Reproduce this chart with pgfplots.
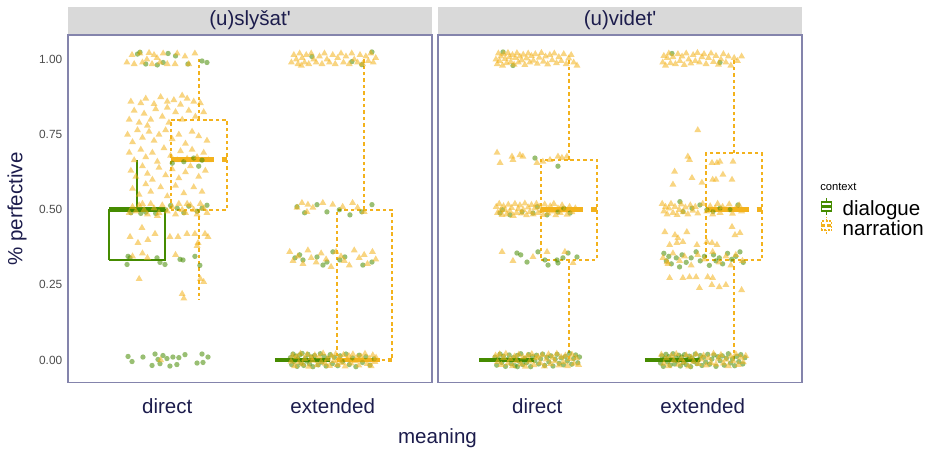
\documentclass[border=0pt]{standalone}
\usepackage{fontspec}
\setmainfont{Liberation Sans}
\newfontfamily\nf{Liberation Sans}
\usepackage{pgfplots}
\pgfplotsset{compat=1.18}
\definecolor{dlg}{HTML}{458B00}
\definecolor{nar}{HTML}{F3B21C}
\definecolor{navy}{HTML}{1C1C4C}
\definecolor{bord}{HTML}{8484AC}
\definecolor{strip}{HTML}{D9D9D9}
\definecolor{tickc}{HTML}{4D4D4D}
\newcommand{\fbig}{\fontsize{15.4pt}{18pt}\selectfont}
\newcommand{\ftick}{\fontsize{8.9pt}{10pt}\selectfont}
\newcommand{\fsmall}{\fontsize{8.4pt}{10pt}\selectfont}
\pgfplotsset{
  panel/.style={
    scale only axis, width=273pt, height=260.8pt,
    xmin=0.4, xmax=2.6, ymin=-0.0755, ymax=1.0815,
    clip=false,
    xtick={1,2}, xticklabels={direct,extended},
    major tick length=0pt, tick style={draw=none},
    axis line style={draw=bord, line width=0.9pt},
    xticklabel style={font=\fbig, text=navy, anchor=base, yshift=-23.25pt},
    yticklabel style={font=\ftick, text=tickc, xshift=-0.8pt},
    every axis title shift=0pt,
    title style={at={(rel axis cs:0.5,1)}, anchor=south, fill=strip, minimum width=273pt, minimum height=20.25pt, inner sep=0pt, font=\nf\fbig, text=navy, yshift=0.45pt},
  },
  gpt/.style={only marks, color=dlg, mark=*, mark size=2pt, mark options={draw opacity=0, fill=dlg, fill opacity=0.55}, forget plot},
  opt/.style={only marks, color=nar, mark=triangle*, mark size=3pt, mark options={draw opacity=0, fill=nar, fill opacity=0.55}, forget plot},
  gbox/.style={dlg, line width=1.6pt, no markers, forget plot},
  gmed/.style={dlg, line width=3.6pt, no markers, forget plot},
  obox/.style={nar, line width=1.5pt, dash pattern=on 2.6pt off 2.2pt, no markers, forget plot},
  omed/.style={nar, line width=3.6pt, dash pattern=on 32pt off 6pt, no markers, forget plot},
}
\begin{document}
\begin{tikzpicture}
\useasboundingbox (0,0) rectangle (697.5pt,-336.75pt);
% ---------------- panel 1 : (u)slysat'
\begin{axis}[panel, at={(51pt,-26.25pt)}, anchor=north west,
  title={(u)slyšat'},
  ytick={0,0.25,0.5,0.75,1}, yticklabels={0.00,0.25,0.50,0.75,1.00},
  ylabel={\% perfective},
  every axis y label/.style={at={(axis description cs:-0.1401,0.5)}, rotate=90, anchor=center, font=\fbig, text=navy},
]
% dialogue points
\addplot[gpt] coordinates {
(0.82,1.018)(0.87,0.985)(0.94,0.982)(0.975,0.99)(1.005,1.02)(1.05,1.012)(1.125,0.985)(1.21,0.995)(1.24,0.99)(0.835,1.024)
(1.03,0.655)(1.1,0.66)(1.16,0.672)(1.21,0.665)(1.19,0.645)
(0.78,0.49)(0.8,0.5)(0.87,0.492)(0.93,0.488)(0.99,0.5)(1.06,0.505)(1.1,0.49)(1.13,0.512)(1.18,0.495)(1.21,0.505)(1.24,0.515)(1.02,0.514)(0.84,0.488)
(0.757,0.318)(0.763,0.345)(0.775,0.34)(0.938,0.34)(0.956,0.325)(0.986,0.318)(1.077,0.335)(1.095,0.333)(1.167,0.345)(1.197,0.315)
(0.763,0.012)(0.787,-0.005)(0.853,0.01)(0.908,-0.018)(0.926,0.02)(0.944,0.002)(0.956,-0.012)(0.974,0.015)(0.998,0.005)(1.016,-0.02)(1.034,0.01)(1.058,-0.015)(1.07,0.008)(1.107,0.018)(1.18,-0.01)(1.21,0.02)(1.216,-0.008)(1.246,0.01)
(1.874,1.01)(2.116,0.993)(2.176,0.983)(2.237,1.025)
(1.784,0.51)(1.905,0.517)(1.965,0.493)(2.104,0.483)(2.176,0.493)(2.237,0.517)(1.83,0.49)(2.04,0.5)
(1.772,0.34)(1.82,0.333)(1.905,0.343)(1.941,0.316)(1.965,0.326)(2.001,0.36)(2.043,0.333)(2.182,0.316)(2.237,0.326)(1.80,0.35)(2.073,0.343)
(1.745,0.008)(1.752,-0.015)(1.76,0.02)(1.768,-0.004)(1.775,0.013)(1.785,-0.021)(1.79,0.003)(1.8,0.017)(1.808,-0.01)(1.815,0.022)(1.825,-0.018)(1.835,0.006)(1.842,-0.003)(1.85,0.019)(1.86,-0.013)(1.872,0.01)(1.88,-0.022)(1.89,0.015)(1.9,0.0)(1.912,-0.016)(1.925,0.021)(1.935,-0.007)(1.948,0.012)(1.96,-0.02)(1.972,0.005)(1.985,0.018)(1.998,-0.012)(2.01,0.009)(2.03,-0.019)(2.045,0.014)(2.06,-0.005)(2.08,0.02)(2.1,-0.015)(2.12,0.007)(2.14,-0.022)(2.16,0.016)(2.18,-0.008)(2.2,0.011)(2.225,-0.017)(2.25,0.004)
};
% narration points
\addplot[opt] coordinates {
(0.756,0.99)(0.787,1.015)(0.80,0.985)(0.835,1.02)(0.877,1.0)(0.908,0.985)(0.92,1.015)(0.938,1.005)(0.956,0.99)(0.975,1.02)(1.047,0.985)(1.06,1.02)(1.107,1.01)(1.13,0.985)(1.167,1.02)(0.85,0.99)(0.89,1.022)(1.0,0.985)
(0.78,0.86)(0.84,0.855)(0.87,0.87)(0.92,0.852)(0.96,0.875)(1.0,0.86)(1.04,0.865)(1.08,0.85)(1.12,0.87)(1.16,0.86)(1.2,0.855)(1.09,0.88)
(0.77,0.8)(0.8,0.83)(0.83,0.79)(0.86,0.82)(0.9,0.8)(0.93,0.835)(0.97,0.81)(1.01,0.79)(1.05,0.825)(1.09,0.8)(1.13,0.83)(1.17,0.81)(1.22,0.825)(0.88,0.78)(1.0,0.84)
(0.76,0.75)(0.79,0.725)(0.82,0.765)(0.85,0.74)(0.89,0.76)(0.92,0.73)(0.95,0.75)(0.99,0.765)(1.03,0.735)(1.07,0.75)(1.11,0.72)(1.15,0.76)(1.19,0.745)(1.24,0.73)
(0.77,0.69)(0.8,0.665)(0.84,0.70)(0.87,0.675)(0.91,0.69)(0.94,0.66)(0.98,0.705)(1.02,0.68)(1.06,0.665)(1.08,0.695)(1.12,0.67)(1.15,0.70)(1.18,0.675)(1.22,0.69)(1.25,0.665)
(0.78,0.63)(0.81,0.61)(0.85,0.645)(0.88,0.62)(0.91,0.6)(0.95,0.64)(0.99,0.615)(1.03,0.635)(1.07,0.605)(1.11,0.625)(1.14,0.645)(1.19,0.61)(1.23,0.63)
(0.79,0.57)(0.83,0.55)(0.87,0.585)(0.9,0.56)(0.96,0.575)(1.0,0.545)(1.05,0.58)(1.1,0.555)(1.16,0.575)(1.21,0.56)
(0.77,0.49)(0.79,0.51)(0.81,0.495)(0.83,0.515)(0.86,0.5)(0.88,0.485)(0.9,0.52)(0.92,0.505)(0.95,0.49)(0.97,0.515)(1.0,0.495)(1.03,0.51)(1.05,0.485)(1.07,0.52)(1.09,0.5)(1.11,0.49)(1.14,0.515)(1.16,0.5)(1.18,0.485)(1.2,0.52)(1.22,0.505)(1.24,0.49)(0.85,0.52)(0.94,0.48)(1.12,0.52)
(0.775,0.41)(0.847,0.44)(0.823,0.39)(0.883,0.40)(0.926,0.42)(1.016,0.41)(1.065,0.41)(1.119,0.42)(1.167,0.42)(1.228,0.42)(1.246,0.41)(1.186,0.39)(1.18,0.38)
(0.83,0.27)(0.79,0.345)(0.85,0.355)(0.88,0.34)(1.09,0.22)(1.10,0.205)(1.20,0.27)(1.22,0.26)(1.05,0.35)(0.96,0.0)
(1.75,0.99)(1.765,1.015)(1.78,1.0)(1.79,0.985)(1.80,1.02)(1.815,1.005)(1.83,0.99)(1.84,1.015)(1.855,0.985)(1.87,1.02)(1.885,1.0)(1.9,0.99)(1.92,1.01)(1.935,0.985)(1.95,1.02)(1.965,1.0)(1.98,0.99)(2.0,1.015)(2.015,0.985)(2.03,1.005)(2.05,1.02)(2.065,0.99)(2.08,1.01)(2.1,0.985)(2.115,1.02)(2.13,1.0)(2.15,0.99)(2.165,1.015)(2.18,0.985)(2.2,1.01)(2.215,0.995)(2.23,1.02)(2.245,0.99)(2.26,1.005)(1.81,0.98)
(1.784,0.507)(1.814,0.523)(1.844,0.493)(1.85,0.517)(1.88,0.507)(1.94,0.523)(2.0,0.517)(2.06,0.51)(2.12,0.523)(2.15,0.507)(2.19,0.493)
(1.74,0.36)(1.76,0.33)(1.79,0.345)(1.82,0.32)(1.85,0.365)(1.87,0.34)(1.90,0.325)(1.93,0.355)(1.96,0.335)(1.99,0.31)(2.02,0.36)(2.05,0.345)(2.07,0.33)(2.10,0.315)(2.13,0.365)(2.16,0.34)(2.19,0.35)(2.21,0.32)(2.24,0.36)(2.26,0.335)
(1.748,-0.005)(1.758,0.015)(1.77,-0.02)(1.782,0.01)(1.795,-0.008)(1.805,0.021)(1.818,-0.014)(1.83,0.003)(1.845,0.018)(1.855,-0.022)(1.868,0.007)(1.878,-0.002)(1.892,0.016)(1.905,-0.017)(1.918,0.011)(1.93,-0.006)(1.942,0.022)(1.955,-0.012)(1.968,0.004)(1.98,-0.019)(1.992,0.013)(2.005,-0.003)(2.018,0.02)(2.028,-0.016)(2.04,0.006)(2.052,-0.009)(2.065,0.017)(2.075,-0.021)(2.088,0.002)(2.098,0.014)(2.11,-0.011)(2.122,0.019)(2.135,-0.004)(2.148,0.009)(2.158,-0.018)(2.17,0.012)(2.182,-0.001)(2.195,0.021)(2.208,-0.013)(2.22,0.005)(2.232,-0.02)(2.242,0.016)(2.255,-0.006)(2.262,0.008)(2.03,0.0)
};
% boxes: dialogue
\addplot[gbox] coordinates {(0.648,0.333)(0.986,0.333)(0.986,0.5)(0.648,0.5)(0.648,0.333)};
\addplot[gbox] coordinates {(0.817,0.5)(0.817,0.667)};
\addplot[gmed] coordinates {(0.648,0.5)(0.986,0.5)};
\addplot[gmed] coordinates {(1.651,0)(1.983,0)};
% boxes: narration
\addplot[obox] coordinates {(1.022,0.5)(1.36,0.5)(1.36,0.8)(1.022,0.8)(1.022,0.5)};
\addplot[obox] coordinates {(1.19,0.8)(1.19,1.0)};
\addplot[obox] coordinates {(1.19,0.5)(1.19,0.2)};
\addplot[omed] coordinates {(1.022,0.667)(1.36,0.667)};
\addplot[obox] coordinates {(2.025,0)(2.358,0)(2.358,0.5)(2.025,0.5)(2.025,0)};
\addplot[obox] coordinates {(2.19,0.5)(2.19,1.0)};
\addplot[omed] coordinates {(2.025,0)(2.358,0)};
\end{axis}
% ---------------- panel 2 : (u)videt'
\begin{axis}[panel, at={(328.5pt,-26.25pt)}, anchor=north west,
  title={(u)videt'},
  ytick=\empty,
  legend style={at={(axis description cs:1.0495,0.4722)}, anchor=west, draw=none, fill=none, inner sep=0pt, outer sep=0pt, font=\fbig, row sep=-3pt, column sep=7.5pt,
    nodes={inner sep=0pt, text height=10pt, text depth=3.5pt}},
  legend cell align=left,
]
\addlegendimage{legend image code/.code={
  \draw[dlg,line width=1.3pt] (3.75pt,-2.3pt)--(3.75pt,0.6pt) (3.75pt,7.4pt)--(3.75pt,10.3pt);
  \draw[dlg,line width=1.3pt] (0pt,0.6pt) rectangle (7.5pt,7.4pt);
  \draw[dlg,line width=2pt] (0pt,4pt)--(7.5pt,4pt);}}
\addlegendentry{dialogue}
\addlegendimage{legend image code/.code={
  \draw[nar,line width=1.3pt,dash pattern=on 1.5pt off 1pt] (3.75pt,-2.3pt)--(3.75pt,0.6pt) (3.75pt,7.4pt)--(3.75pt,10.3pt);
  \draw[nar,line width=1.3pt,dash pattern=on 1.5pt off 1pt] (0pt,0.6pt) rectangle (7.5pt,7.4pt);
  \draw[nar,line width=2pt,dash pattern=on 3pt off 1.2pt] (0pt,4pt)--(7.5pt,4pt);}}
\addlegendentry{narration}
% dialogue points
\addplot[gpt] coordinates {
(0.793,1.025)(0.853,0.98)
(0.986,0.672)(1.125,0.645)
(0.775,0.489)(0.835,0.483)(0.908,0.493)(0.974,0.489)(1.059,0.483)(1.125,0.493)(1.198,0.489)(0.79,0.5)(1.0,0.51)(1.16,0.505)
(0.877,0.356)(0.938,0.326)(1.004,0.36)(1.046,0.333)(1.065,0.316)(1.119,0.333)(1.125,0.323)(1.155,0.34)(1.186,0.356)(1.24,0.343)(0.9,0.35)
(0.745,0.01)(0.755,-0.017)(0.765,0.004)(0.775,0.02)(0.785,-0.008)(0.795,0.013)(0.808,-0.021)(0.82,0.002)(0.83,0.017)(0.842,-0.012)(0.855,0.008)(0.865,-0.019)(0.878,0.015)(0.89,-0.004)(0.9,0.021)(0.912,-0.015)(0.925,0.006)(0.935,-0.009)(0.948,0.018)(0.96,-0.022)(0.972,0.011)(0.985,-0.002)(0.995,0.016)(1.008,-0.013)(1.02,0.004)(1.032,0.02)(1.045,-0.018)(1.058,0.009)(1.07,-0.006)(1.082,0.014)(1.095,-0.02)(1.108,0.003)(1.12,0.019)(1.132,-0.011)(1.145,0.007)(1.158,-0.016)(1.17,0.012)(1.182,-0.003)(1.195,0.022)(1.208,-0.014)(1.22,0.005)(1.232,0.017)(1.245,-0.009)(1.255,0.01)(0.88,-0.022)
(1.814,1.02)(2.104,0.99)
(1.862,0.527)(1.881,0.494)(1.935,0.505)(1.983,0.516)(2.025,0.5)(2.062,0.494)(2.104,0.505)(2.165,0.5)(2.213,0.516)
(1.765,0.355)(1.78,0.33)(1.795,0.345)(1.81,0.32)(1.84,0.34)(1.86,0.31)(1.875,0.35)(1.9,0.325)(1.93,0.34)(1.96,0.36)(1.985,0.33)(2.01,0.345)(2.04,0.315)(2.065,0.35)(2.08,0.33)(2.1,0.34)(2.12,0.32)(2.15,0.355)(2.175,0.335)(2.2,0.345)(2.225,0.36)(2.245,0.325)
(1.745,-0.01)(1.753,0.014)(1.762,-0.021)(1.77,0.005)(1.778,0.019)(1.787,-0.006)(1.795,0.011)(1.803,-0.017)(1.812,0.002)(1.82,0.021)(1.83,-0.013)(1.838,0.008)(1.847,-0.003)(1.855,0.016)(1.865,-0.02)(1.873,0.01)(1.882,-0.008)(1.89,0.018)(1.9,-0.015)(1.908,0.004)(1.918,0.013)(1.927,-0.022)(1.936,0.007)(1.945,-0.004)(1.955,0.02)(1.965,-0.012)(1.975,0.001)(1.985,0.015)(1.995,-0.018)(2.005,0.009)(2.018,-0.007)(2.03,0.019)(2.042,-0.014)(2.055,0.003)(2.068,0.017)(2.08,-0.021)(2.092,0.011)(2.105,-0.002)(2.118,0.014)(2.13,-0.017)(2.143,0.006)(2.155,0.021)(2.168,-0.01)(2.18,0.004)(2.193,-0.019)(2.205,0.012)(2.218,-0.005)(2.23,0.018)(2.242,-0.013)(2.255,0.008)
};
% narration points
\addplot[opt] coordinates {
(0.75,1.0)(0.758,0.985)(0.765,1.02)(0.772,0.995)(0.78,1.01)(0.79,0.98)(0.798,1.018)(0.806,1.002)(0.815,0.988)(0.823,1.022)(0.832,1.008)(0.84,0.992)(0.85,1.015)(0.86,0.983)(0.868,1.005)(0.877,1.021)(0.886,0.99)(0.895,1.01)(0.905,0.997)(0.915,1.016)(0.925,0.982)(0.935,1.004)(0.945,1.02)(0.955,0.99)(0.965,1.012)(0.976,0.996)(0.988,1.018)(1.0,0.986)(1.012,1.006)(1.025,1.022)(1.037,0.993)(1.05,1.01)(1.063,0.984)(1.076,1.015)(1.09,0.998)(1.103,1.02)(1.116,0.988)(1.13,1.008)(1.145,0.995)(1.16,1.018)(1.175,0.985)(1.19,1.004)(1.205,1.015)(1.22,0.99)(1.24,0.98)
(0.757,0.69)(0.775,0.656)(0.847,0.677)(0.853,0.666)(0.895,0.682)(0.913,0.677)(0.998,0.656)(1.034,0.66)(1.077,0.666)(1.125,0.677)(1.149,0.673)(1.179,0.677)
(0.752,0.51)(0.76,0.49)(0.77,0.52)(0.778,0.498)(0.787,0.483)(0.796,0.512)(0.805,0.5)(0.815,0.485)(0.825,0.517)(0.835,0.495)(0.845,0.506)(0.855,0.48)(0.865,0.52)(0.875,0.49)(0.885,0.503)(0.895,0.515)(0.905,0.488)(0.915,0.5)(0.925,0.521)(0.935,0.482)(0.945,0.508)(0.955,0.493)(0.965,0.516)(0.975,0.485)(0.985,0.505)(0.995,0.52)(1.005,0.49)(1.015,0.51)(1.025,0.498)(1.035,0.483)(1.045,0.518)(1.055,0.5)(1.065,0.488)(1.078,0.512)(1.09,0.495)(1.1,0.52)(1.112,0.482)(1.125,0.505)(1.138,0.49)(1.15,0.515)(1.165,0.498)(1.18,0.484)(1.195,0.51)(1.21,0.492)(1.23,0.505)
(0.787,0.36)(0.853,0.33)(0.974,0.343)(1.059,0.36)(1.167,0.36)(1.216,0.323)
(0.748,0.015)(0.76,-0.006)(0.772,0.019)(0.783,-0.016)(0.797,0.007)(0.81,0.021)(0.823,-0.011)(0.837,0.003)(0.85,-0.02)(0.862,0.012)(0.875,-0.003)(0.888,0.018)(0.902,-0.014)(0.915,0.009)(0.928,-0.022)(0.94,0.014)(0.953,-0.005)(0.967,0.02)(0.98,-0.017)(0.992,0.006)(1.005,0.011)(1.018,-0.01)(1.03,0.016)(1.043,-0.021)(1.055,0.002)(1.068,0.019)(1.08,-0.013)(1.093,0.008)(1.106,-0.004)(1.118,0.021)(1.131,-0.018)(1.144,0.01)(1.157,-0.007)(1.17,0.015)(1.183,-0.02)(1.196,0.004)(1.21,0.018)(1.222,-0.012)(1.236,0.007)(1.25,-0.016)
(1.758,0.99)(1.765,1.012)(1.775,0.98)(1.785,1.005)(1.795,1.02)(1.805,0.988)(1.82,1.008)(1.835,0.985)(1.85,1.018)(1.862,0.995)(1.875,1.01)(1.888,0.982)(1.9,1.02)(1.915,1.0)(1.928,0.987)(1.942,1.015)(1.955,0.995)(1.968,1.022)(1.98,0.99)(1.995,1.008)(2.008,1.018)(2.02,0.985)(2.035,1.005)(2.05,1.02)(2.065,0.992)(2.08,1.012)(2.095,0.983)(2.11,1.0)(2.125,1.018)(2.14,0.99)(2.155,1.01)(2.17,0.98)(2.19,1.005)(2.21,0.995)(2.235,1.01)
(1.97,0.765)(1.91,0.677)(1.92,0.666)(1.83,0.627)(1.82,0.584)(1.935,0.606)(2.056,0.656)(2.086,0.656)(2.104,0.66)(2.183,0.66)(2.122,0.617)(2.06,0.60)(2.08,0.60)(2.177,0.6)(1.995,0.59)
(1.755,0.52)(1.765,0.495)(1.775,0.51)(1.785,0.485)(1.795,0.505)(1.808,0.52)(1.82,0.49)(1.832,0.51)(1.845,0.483)(1.858,0.5)(1.87,0.518)(1.882,0.492)(1.895,0.508)(1.91,0.485)(1.925,0.515)(1.94,0.497)(1.955,0.51)(1.97,0.488)(2.0,0.52)(2.025,0.495)(2.045,0.512)(2.06,0.485)(2.075,0.505)(2.09,0.52)(2.105,0.49)(2.12,0.51)(2.14,0.5)(2.16,0.518)(2.18,0.487)(2.2,0.505)(2.22,0.515)(2.235,0.495)
(1.771,0.426)(1.832,0.416)(1.85,0.406)(1.904,0.426)(1.965,0.383)(2.025,0.393)(2.056,0.39)(2.086,0.383)(2.177,0.443)(2.195,0.416)(2.225,0.423)(1.80,0.383)(1.844,0.39)(1.88,0.393)
(1.76,0.34)(1.79,0.32)(1.82,0.355)(1.86,0.33)(1.89,0.345)(1.93,0.315)(1.97,0.35)(2.01,0.335)(2.06,0.36)(2.1,0.325)(2.14,0.345)(2.17,0.315)(2.2,0.35)(2.24,0.33)(1.784,0.326)
(1.80,0.273)(1.88,0.273)(1.92,0.276)(1.96,0.276)(2.03,0.276)(2.06,0.273)(1.98,0.24)(2.055,0.25)(2.10,0.243)(2.14,0.25)(2.235,0.233)
(1.75,0.018)(1.765,-0.012)(1.78,0.006)(1.795,-0.02)(1.81,0.013)(1.825,-0.002)(1.84,0.02)(1.855,-0.015)(1.87,0.004)(1.885,-0.008)(1.9,0.016)(1.915,-0.021)(1.93,0.009)(1.945,-0.005)(1.96,0.019)(1.975,-0.013)(1.99,0.002)(2.005,0.015)(2.02,-0.018)(2.035,0.007)(2.05,-0.009)(2.065,0.021)(2.08,-0.014)(2.095,0.005)(2.11,0.017)(2.125,-0.011)(2.14,0.001)(2.155,-0.02)(2.17,0.012)(2.185,-0.004)(2.2,0.02)(2.215,-0.016)(2.23,0.008)(2.245,-0.007)(2.26,0.014)
};
% boxes: dialogue
\addplot[gmed] coordinates {(0.648,0)(0.98,0)};
\addplot[gmed] coordinates {(1.651,0)(1.983,0)};
% boxes: narration
\addplot[obox] coordinates {(1.02,0.333)(1.359,0.333)(1.359,0.667)(1.02,0.667)(1.02,0.333)};
\addplot[obox] coordinates {(1.192,0.667)(1.192,1.0)};
\addplot[obox] coordinates {(1.192,0.333)(1.192,0.0)};
\addplot[omed] coordinates {(1.02,0.5)(1.359,0.5)};
\addplot[obox] coordinates {(2.019,0.333)(2.358,0.333)(2.358,0.6875)(2.019,0.6875)(2.019,0.333)};
\addplot[obox] coordinates {(2.188,0.6875)(2.188,1.0)};
\addplot[obox] coordinates {(2.188,0.333)(2.188,0.0)};
\addplot[omed] coordinates {(2.019,0.5)(2.358,0.5)};
\node[anchor=west, font=\fsmall, inner sep=0pt] at (axis description cs:1.0495,0.563) {context};
\end{axis}
\node[anchor=base, font=\fbig, text=navy, inner sep=0pt] at (328.1pt,-332.25pt) {meaning};
\end{tikzpicture}
\end{document}
